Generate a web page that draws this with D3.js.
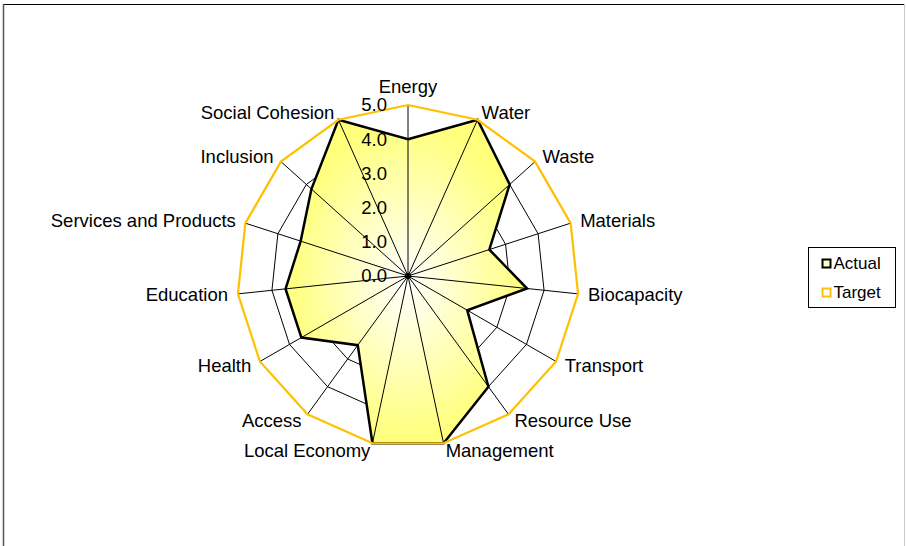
<!DOCTYPE html>
<html>
<head>
<meta charset="utf-8">
<script src="https://cdn.jsdelivr.net/npm/d3@7"></script>
<style>
  body { margin: 0; background: #fff; }
  svg { display: block; }
  text { font-family: "Liberation Sans", Arial, sans-serif; fill: #000; }
</style>
</head>
<body>
<svg id="radarChart" width="906" height="546"></svg>
<script>
// chart values
var categories = ["Energy", "Water", "Waste", "Materials", "Biocapacity", "Transport",
  "Resource Use", "Management", "Local Economy", "Access", "Health", "Education",
  "Services and Products", "Inclusion", "Social Cohesion"];
var actualValues = [4.0, 5.0, 4.0, 2.5, 3.5, 2.0, 4.0, 5.0, 5.0, 2.5, 3.6, 3.6, 3.3, 3.8, 5.0];
var targetValues = [5, 5, 5, 5, 5, 5, 5, 5, 5, 5, 5, 5, 5, 5, 5];
var tickValues = [0, 1, 2, 3, 4, 5];
var seriesNames = ["Actual", "Target"];

var width = 906;
var height = 546;
var cx = 408, cy = 276, radius = 171;
var gold = "#FFC000";

var svg = d3.select("#radarChart");

// chart area frame (only top / sides are visible)
svg.append("line").attr("x1", 3).attr("x2", 905).attr("y1", 4.5).attr("y2", 4.5)
  .attr("stroke", "#000").attr("stroke-width", 1);
svg.append("line").attr("x1", 3.5).attr("x2", 3.5).attr("y1", 4).attr("y2", height)
  .attr("stroke", "#555").attr("stroke-width", 1.5);
svg.append("line").attr("x1", 904.5).attr("x2", 904.5).attr("y1", 4).attr("y2", height)
  .attr("stroke", "#ccc").attr("stroke-width", 1);

var defs = svg.append("defs");
var grad = defs.append("radialGradient").attr("id", "actualFill");
grad.append("stop").attr("offset", "0%").attr("stop-color", "#ffffff");
grad.append("stop").attr("offset", "100%").attr("stop-color", "#ffff7a");

var rScale = d3.scaleLinear().domain([0, 5]).range([0, radius]);
var aScale = d3.scaleLinear().domain([0, categories.length]).range([0, 2 * Math.PI]);

var g = svg.append("g").attr("transform", "translate(" + cx + "," + cy + ")");

var radial = d3.lineRadial()
  .curve(d3.curveLinearClosed)
  .angle(function(d, i) { return aScale(i); })
  .radius(function(d) { return rScale(d); });

// value gridlines (outer ring is covered by the target series)
g.selectAll(".ring")
  .data(tickValues.slice(1, 5))
  .enter().append("path")
  .attr("class", "ring")
  .attr("d", function(t) { return radial(categories.map(function() { return t; })); })
  .attr("fill", "none")
  .attr("stroke", "#000")
  .attr("stroke-width", 1);

// actual area fill
g.append("path")
  .attr("d", radial(actualValues))
  .attr("fill", "url(#actualFill)")
  .attr("stroke", "none");

// spokes
g.selectAll(".spoke")
  .data(categories)
  .enter().append("line")
  .attr("class", "spoke")
  .attr("x1", 0).attr("y1", 0)
  .attr("x2", function(d, i) { return rScale(5) * Math.sin(aScale(i)); })
  .attr("y2", function(d, i) { return -rScale(5) * Math.cos(aScale(i)); })
  .attr("stroke", "#000")
  .attr("stroke-width", 1);

g.append("circle").attr("r", 3).attr("fill", "#000");

// actual outline
g.append("path")
  .attr("d", radial(actualValues))
  .attr("fill", "none")
  .attr("stroke", "#000")
  .attr("stroke-width", 2.5)
  .attr("stroke-linejoin", "miter");

// target outline
g.append("path")
  .attr("d", radial(targetValues))
  .attr("fill", "none")
  .attr("stroke", gold)
  .attr("stroke-width", 2.2);

// value axis labels
g.selectAll(".tick")
  .data(tickValues)
  .enter().append("text")
  .attr("class", "tick")
  .attr("x", -21)
  .attr("y", function(d) { return -rScale(d); })
  .attr("dy", "0.35em")
  .attr("text-anchor", "end")
  .style("font-size", "18.5px")
  .text(function(d) { return d3.format(".1f")(d); });

// category labels
g.selectAll(".cat")
  .data(categories)
  .enter().append("text")
  .attr("class", "cat")
  .attr("x", function(d, i) { return (radius + 10) * Math.sin(aScale(i)); })
  .attr("y", function(d, i) {
    var a = aScale(i);
    if (Math.abs(Math.sin(a)) < 0.01) return -(radius + 18);
    return -(radius + 7.5) * Math.cos(a);
  })
  .attr("dy", "0.35em")
  .attr("text-anchor", function(d, i) {
    var s = Math.sin(aScale(i));
    return s > 0.01 ? "start" : (s < -0.01 ? "end" : "middle");
  })
  .style("font-size", "18.5px")
  .text(function(d) { return d; });

// legend
var legend = svg.append("g").attr("transform", "translate(808.5,247.5)");
legend.append("rect").attr("width", 87).attr("height", 60)
  .attr("fill", "#fff").attr("stroke", "#000").attr("stroke-width", 1);

var legendItems = legend.selectAll(".item")
  .data(seriesNames)
  .enter().append("g")
  .attr("class", "item")
  .attr("transform", function(d, i) { return "translate(14," + (16 + i * 29) + ")"; });

legendItems.append("rect")
  .attr("x", 0).attr("y", -4)
  .attr("width", 8).attr("height", 8)
  .attr("fill", function(d, i) { return i === 0 ? "#ffffc0" : "#fff"; })
  .attr("stroke", function(d, i) { return i === 0 ? "#000" : gold; })
  .attr("stroke-width", 2);

legendItems.append("text")
  .attr("x", 11)
  .attr("dy", "0.35em")
  .style("font-size", "17px")
  .text(function(d) { return d; });
</script>
</body>
</html>
